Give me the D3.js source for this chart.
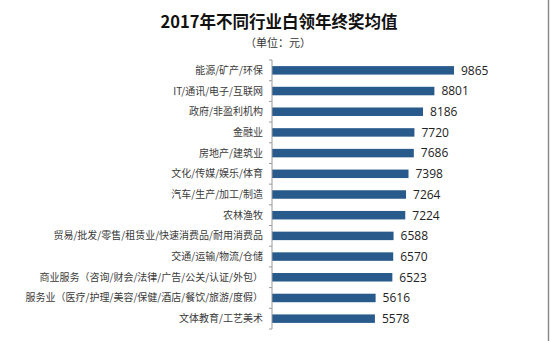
<!DOCTYPE html>
<html>
<head>
<meta charset="utf-8">
<script src="https://cdn.jsdelivr.net/npm/d3@7"></script>
<style>
  html, body { margin: 0; padding: 0; background: #fff; }
  svg { display: block; }
</style>
</head>
<body>
<svg id="chart" width="550" height="341"></svg>
<script>
// Year-end bonus averages by industry (unit: yuan)
const categories = [
  "能源/矿产/环保",
  "IT/通讯/电子/互联网",
  "政府/非盈利机构",
  "金融业",
  "房地产/建筑业",
  "文化/传媒/娱乐/体育",
  "汽车/生产/加工/制造",
  "农林渔牧",
  "贸易/批发/零售/租赁业/快速消费品/耐用消费品",
  "交通/运输/物流/仓储",
  "商业服务（咨询/财会/法律/广告/公关/认证/外包）",
  "服务业（医疗/护理/美容/保健/酒店/餐饮/旅游/度假）",
  "文体教育/工艺美术"
];
const values = [9865, 8801, 8186, 7720, 7686, 7398, 7264, 7224, 6588, 6570, 6523, 5616, 5578];

const titleText = "2017年不同行业白领年终奖均值";
const unitText = "（单位：元）";

const svg = d3.select("#chart");
const W = 550, H = 341;
const margin = { top: 60, left: 272, bottom: 12 };
const plotBottom = 329;

const cjk = "'Noto Sans CJK SC', 'Noto Sans', sans-serif";

// Scales
const x = d3.scaleLinear().domain([0, 12000]).range([margin.left, margin.left + 221.4]);
const y = d3.scaleBand().domain(categories).range([margin.top, plotBottom]).paddingInner(0.59).paddingOuter(0.295);

// Frame line on the right
svg.append("line")
  .attr("x1", 548.5).attr("x2", 548.5).attr("y1", 0).attr("y2", H)
  .attr("stroke", "#8a8a8a").attr("stroke-width", 1.5);

// Title and unit
svg.append("text")
  .attr("x", 279).attr("y", 28)
  .attr("text-anchor", "middle")
  .attr("font-family", cjk).attr("font-weight", "bold")
  .attr("font-size", 16.5).attr("fill", "#111")
  .text(titleText);

svg.append("text")
  .attr("x", 278).attr("y", 47)
  .attr("text-anchor", "middle")
  .attr("font-family", cjk)
  .attr("font-size", 11).attr("fill", "#333")
  .text(unitText);

// Bars
svg.append("g").selectAll("rect")
  .data(values)
  .join("rect")
  .attr("x", x(0))
  .attr("y", (d, i) => y(categories[i]))
  .attr("width", d => x(d) - x(0))
  .attr("height", y.bandwidth())
  .attr("fill", "#285a8c");

// Value labels
svg.append("g").selectAll("text")
  .data(values)
  .join("text")
  .attr("x", d => x(d) + 7)
  .attr("y", (d, i) => y(categories[i]) + y.bandwidth() / 2)
  .attr("dy", "0.36em")
  .attr("font-family", "'Open Sans', 'DejaVu Sans', sans-serif")
  .attr("font-size", 12).attr("fill", "#222")
  .text(d => d);

// Category axis with ticks between bands
const axis = svg.append("g")
  .attr("transform", `translate(${margin.left},0)`);

axis.append("line")
  .attr("x1", 0).attr("x2", 0)
  .attr("y1", margin.top).attr("y2", plotBottom)
  .attr("stroke", "#9a9a9a").attr("stroke-width", 1);

const boundaries = d3.range(categories.length + 1).map(i => margin.top + i * (plotBottom - margin.top) / categories.length);
axis.selectAll("line.tick")
  .data(boundaries)
  .join("line")
  .attr("class", "tick")
  .attr("x1", -3).attr("x2", 0)
  .attr("y1", d => d).attr("y2", d => d)
  .attr("stroke", "#9a9a9a");

axis.selectAll("text")
  .data(categories)
  .join("text")
  .attr("x", -9)
  .attr("y", d => y(d) + y.bandwidth() / 2)
  .attr("dy", "0.35em")
  .attr("text-anchor", "end")
  .attr("font-family", cjk)
  .attr("font-size", 10).attr("fill", "#3a3a3a")
  .text(d => d);
</script>
</body>
</html>
